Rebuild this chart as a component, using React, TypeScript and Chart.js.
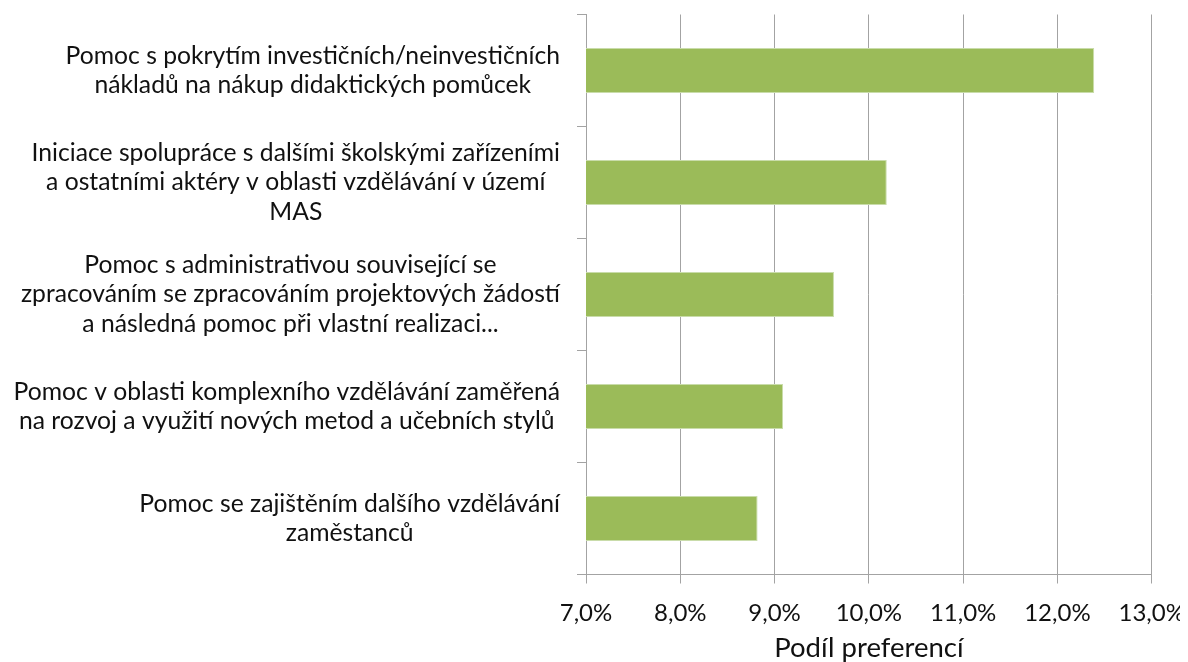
import { useEffect, useRef } from "react";
import { Chart, registerables } from "chart.js";

Chart.register(...registerables);

const categories: string[][] = [
  ["Pomoc s pokrytím investičních/neinvestičních", "nákladů na nákup didaktických pomůcek"],
  ["Iniciace spolupráce s dalšími školskými zařízeními", "a ostatními aktéry v oblasti vzdělávání v území", "MAS"],
  ["Pomoc s administrativou související se", "zpracováním se zpracováním projektových žádostí", "a následná pomoc při vlastní realizaci..."],
  ["Pomoc v oblasti komplexního vzdělávání zaměřená", "na rozvoj a využití nových metod a učebních stylů"],
  ["Pomoc se zajištěním dalšího vzdělávání", "zaměstanců"],
];
const values = [12.39, 10.19, 9.63, 9.09, 8.82];
const xMin = 7;
const xMax = 13;
const xStep = 1;
const axisTitle = "Podíl preferencí";

const FONT = "Lato";
const LABEL_SIZE = 24.7;
const LABEL_LINE = 29.5;
const LABEL_RIGHT = 552;
const GRID = "#a3a3a3";

const labelPlugin = {
  id: "blockLabels",
  afterDraw(chart: any) {
    const ctx = chart.ctx as CanvasRenderingContext2D;
    const y = chart.scales.y;
    ctx.save();
    ctx.font = `${LABEL_SIZE}px ${FONT}`;
    ctx.fillStyle = "#111";
    ctx.textAlign = "center";
    ctx.textBaseline = "middle";
    categories.forEach((lines, i) => {
      const w = Math.max(...lines.map((l) => ctx.measureText(l).width));
      const cx = LABEL_RIGHT - w / 2;
      const yc = y.getPixelForValue(i);
      const start = yc - ((lines.length - 1) / 2) * LABEL_LINE;
      lines.forEach((l, k) => ctx.fillText(l, cx, start + k * LABEL_LINE));
    });
    ctx.restore();
  },
};

export default function App() {
  const ref = useRef<HTMLCanvasElement>(null);
  useEffect(() => {
    if (!ref.current) return;
    const chart = new Chart(ref.current, {
      type: "bar",
      data: {
        labels: categories.map((c) => c.join(" ")),
        datasets: [
          {
            data: values,
            backgroundColor: "#9BBB59",
            borderColor: "#c9dcaa",
            borderWidth: 1,
            borderSkipped: false,
            categoryPercentage: 1,
            barPercentage: 0.4,
          },
        ],
      },
      options: {
        indexAxis: "y",
        animation: false,
        responsive: false,
        layout: { padding: { top: 6.5, right: 34.3, left: 0, bottom: 0 } },
        plugins: { legend: { display: false }, tooltip: { enabled: false } },
        scales: {
          x: {
            min: xMin,
            max: xMax,
            ticks: {
              stepSize: xStep,
              padding: 15,
              color: "#111",
              font: { family: FONT, size: 24 },
              callback: (v: any) => Number(v).toFixed(1).replace(".", ",") + "%",
            },
            grid: { color: GRID, lineWidth: 1, tickLength: 9, drawTicks: true },
            border: { display: true, color: GRID, width: 1 },
            title: {
              display: true,
              text: axisTitle,
              color: "#111",
              font: { family: FONT, size: 27.5, lineHeight: 1.0 },
              padding: { top: 0, bottom: 0 },
            },
            afterFit: (s: any) => {
              s.height = 87.5;
              s.paddingRight = 0;
              s.paddingLeft = 0;
            },
          },
          y: {
            ticks: { display: false },
            grid: { color: GRID, lineWidth: 1, tickLength: 9, drawOnChartArea: false, drawTicks: true },
            border: { display: true, color: GRID, width: 1 },
            afterFit: (s: any) => {
              s.width = 578;
            },
          },
        },
      },
      plugins: [labelPlugin],
    });
    return () => chart.destroy();
  }, []);
  return <canvas ref={ref} width={1178} height={654} style={{ display: "block" }} />;
}
